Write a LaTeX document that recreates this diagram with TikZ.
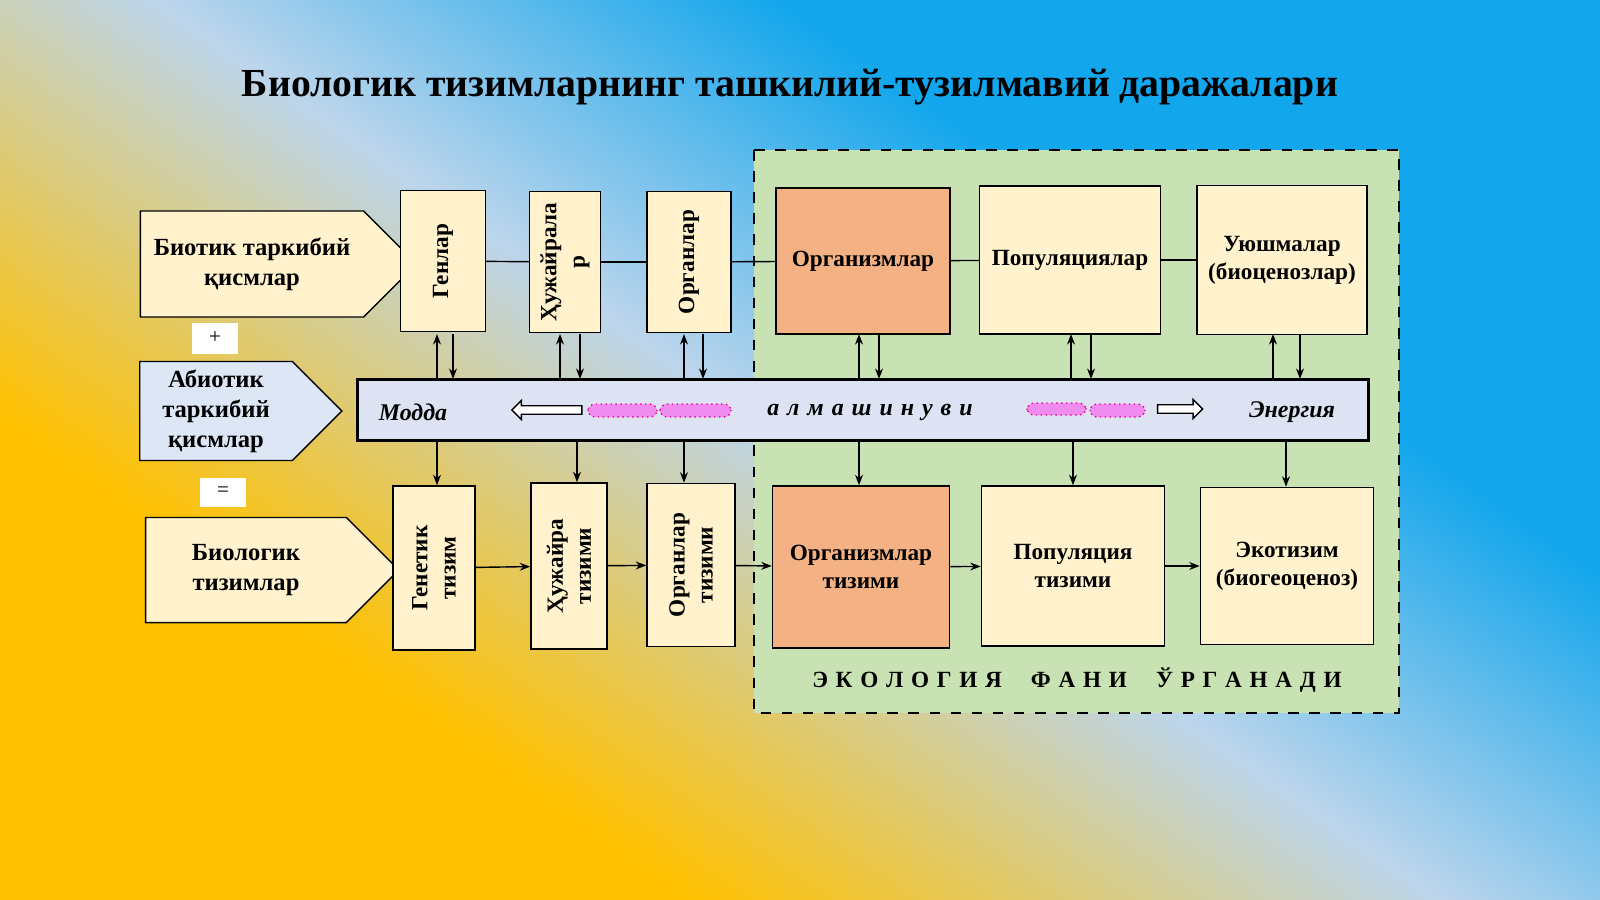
\documentclass[tikz,border=0pt]{standalone}
\usepackage{fontspec}
\setmainfont{Liberation Serif}
\usetikzlibrary{arrows.meta,positioning,shapes.arrows,shapes.symbols}
\definecolor{creamColor}{HTML}{FFF2CC}
\definecolor{orgColor}{HTML}{F4B183}
\definecolor{ecoColor}{HTML}{C9E2B3}
\definecolor{bandColor}{HTML}{DDE3F3}
\definecolor{abioColor}{HTML}{DCE6F4}
\definecolor{pinkColor}{HTML}{F08CF0}
\definecolor{skyColor}{HTML}{12A6EC}
\definecolor{paleColor}{HTML}{BCD5EC}
\definecolor{sunColor}{HTML}{FFC000}
\pgfdeclareverticalshading{bgshade}{100bp}{color(0bp)=(sunColor); color(38bp)=(sunColor); color(50bp)=(paleColor); color(60bp)=(skyColor); color(100bp)=(skyColor)}
\tikzset{
	box/.style={draw, fill=creamColor, thin, align=center, inner sep=1pt,
		font=\fontsize{6.6}{8}\selectfont\bfseries},
	vbox/.style={box, rotate=90},
	obox/.style={box, fill=orgColor},
	part/.style={signal, signal to=east, draw, fill=creamColor, thin, align=center,
		font=\fontsize{7}{8.5}\selectfont\bfseries, inner sep=1pt},
	sign/.style={fill=white, font=\fontsize{6}{7}\selectfont, inner sep=0pt},
	link/.style={-{Stealth[length=3pt]}, thin},
	wave/.style={fill=pinkColor, draw=magenta, densely dotted, rounded corners=2pt},
	hollow/.style={single arrow, draw, fill=white, minimum height=0.7cm, single arrow head extend=1.5pt, inner sep=1pt, minimum width=0.17cm}
}
\begin{document}
\begin{tikzpicture}[x=0.01cm, y=-0.01cm]
	\useasboundingbox (0,0) rectangle (1600,899);
	\begin{scope}
		\clip (0,0) rectangle (1600,899);
		\shade[shading=bgshade, shading angle=-35] (-300,-300) rectangle (1900,1200);
	\end{scope}
	\node[font=\fontsize{11.3}{13}\selectfont\bfseries] (title) at (790,87) {Биологик тизимларнинг ташкилий-тузилмавий даражалари};
	% ecology area
	\draw[fill=ecoColor, semithick, dashed] (754,150) rectangle (1399,713);
	\node[font=\fontsize{6.6}{8}\selectfont\bfseries] (eco) at (1077,680) {Э\,\,К\,\,О\,\,Л\,\,О\,\,Г\,\,И\,\,Я\quad\ Ф\,\,А\,\,Н\,\,И\quad\ Ў\,\,Р\,\,Г\,\,А\,\,Н\,\,А\,\,Д\,\,И};
	% left column
	\node[part, minimum width=2.76cm, minimum height=1.06cm] (biot) at (252,264) {Биотик таркибий\\қисмлар};
	\node[part, fill=abioColor, minimum width=2.02cm, minimum height=0.99cm] (abiot) at (216,411) {Абиотик\\таркибий\\қисмлар};
	\node[part, minimum width=2.53cm, minimum height=1.05cm] (biol) at (246,570) {Биологик\\тизимлар};
	\node[sign, minimum width=0.45cm, minimum height=0.31cm] (plus) at (215,338) {+};
	\node[sign, minimum width=0.46cm, minimum height=0.29cm] (eq) at (223,492) {=};
	% top row
	\node[vbox, minimum width=1.41cm, minimum height=0.85cm] (gen) at (443,261) {Генлар};
	\node[vbox, minimum width=1.41cm, minimum height=0.71cm] (cell) at (565,262) {Ҳужайрала\\р};
	\node[vbox, minimum width=1.41cm, minimum height=0.84cm] (organ) at (689,262) {Органлар};
	\node[obox, minimum width=1.74cm, minimum height=1.46cm] (orgm) at (863,261) {Организмлар};
	\node[box, minimum width=1.81cm, minimum height=1.48cm] (pop) at (1070,260) {Популяциялар};
	\node[box, minimum width=1.70cm, minimum height=1.49cm] (comm) at (1282,260) {Уюшмалар\\(биоценозлар)};
	\foreach \a/\b in {gen/cell, cell/organ, organ/orgm, orgm/pop, pop/comm}
		\draw[thin] (\a) -- (\b);
	% exchange band
	\node[draw, fill=bandColor, thick, minimum width=10.1cm, minimum height=0.61cm] (band) at (863,410) {};
	\node[font=\fontsize{6.8}{8}\selectfont\bfseries\itshape] (modda) at (413,412) {Модда};
	\node[font=\fontsize{6.8}{8}\selectfont\bfseries\itshape] (exch) at (870,412) {а\,\,л\,\,м\,\,а\,\,ш\,\,и\,\,н\,\,у\,\,в\,\,и};
	\node[font=\fontsize{6.8}{8}\selectfont\bfseries\itshape] (energy) at (1292,412) {Энергия};
	\node[hollow, shape border rotate=180] (larr) at (549,410) {};
	\node[hollow, minimum height=0.45cm] (rarr) at (1178,409) {};
	\draw[wave] (588,404) rectangle (657,417);
	\draw[wave] (660,404) rectangle (731,417);
	\draw[wave] (1027,403) rectangle (1086,415);
	\draw[wave] (1090,404) rectangle (1145,417);
	% bottom row
	\node[vbox, minimum width=1.64cm, minimum height=0.82cm] (gsys) at (434,568) {Генетик\\тизим};
	\node[vbox, minimum width=1.66cm, minimum height=0.76cm] (csys) at (569,566) {Ҳужайра\\тизими};
	\node[vbox, minimum width=1.63cm, minimum height=0.88cm] (osys) at (691,565) {Органлар\\тизими};
	\node[obox, minimum width=1.77cm, minimum height=1.62cm] (orgsys) at (861,567) {Организмлар\\тизими};
	\node[box, minimum width=1.83cm, minimum height=1.60cm] (popsys) at (1073,566) {Популяция\\тизими};
	\node[box, minimum width=1.73cm, minimum height=1.57cm] (ecosys) at (1287,566) {Экотизим\\(биогеоценоз)};
	\foreach \a/\b in {gsys/csys, csys/osys, osys/orgsys, orgsys/popsys, popsys/ecosys}
		\draw[link] (\a) -- (\b);
	% links with the band
	\foreach \u/\d in {437/453, 560/580, 684/703, 859/879, 1071/1091, 1273/1300} {
		\draw[link] (\u,379) -- (\u,334);
		\draw[link] (\d,334) -- (\d,379);
	}
	\foreach \b/\side/\x in {gsys/east/437, csys/east/577, osys/east/684, orgsys/north/859, popsys/north/1073, ecosys/north/1286}
		\draw[link] (band.south -| \x,0) -- (\b.\side -| \x,0);
\end{tikzpicture}
\end{document}
